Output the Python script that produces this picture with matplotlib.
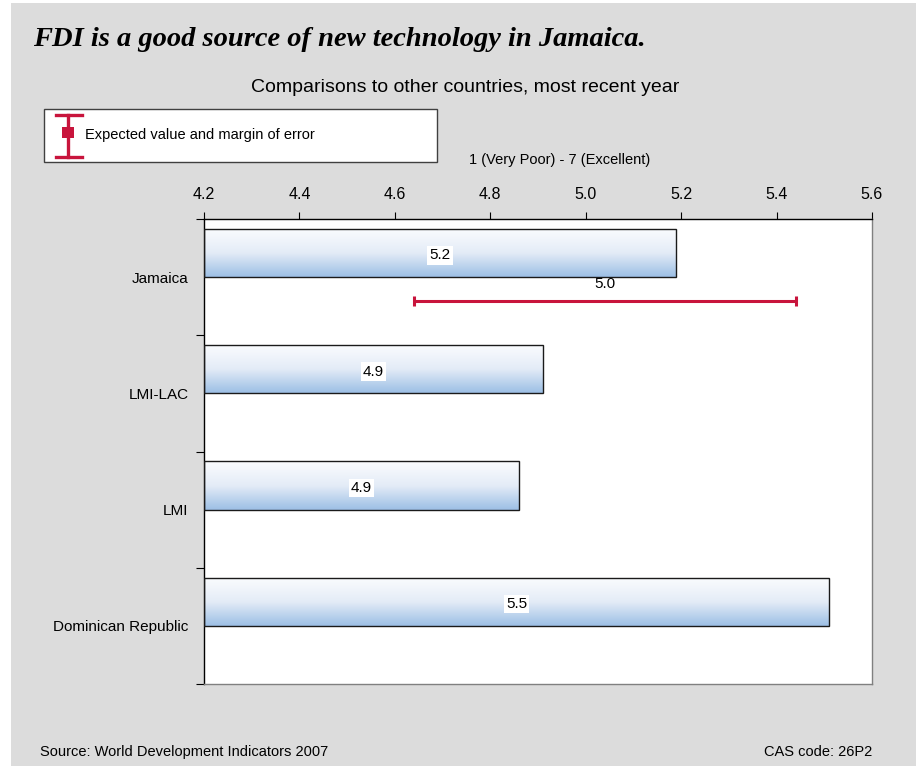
import numpy as np
import matplotlib
matplotlib.use("Agg")
import matplotlib.pyplot as plt
from matplotlib.colors import LinearSegmentedColormap
from matplotlib.patches import Rectangle
from matplotlib.lines import Line2D

plt.rcParams['font.family'] = ['Liberation Sans', 'DejaVu Sans']

# Data
countries = ["Jamaica", "LMI-LAC", "LMI", "Dominican Republic"]
scores = [5.19, 4.91, 4.86, 5.51]
score_labels = ["5.2", "4.9", "4.9", "5.5"]
expected_value = 5.04          # Jamaica expected value
expected_label = "5.0"
margin_of_error = 0.40
x_ticks = [4.2, 4.4, 4.6, 4.8, 5.0, 5.2, 5.4, 5.6]

BG = "#dcdcdc"
RED = "#c8143c"

fig = plt.figure(figsize=(9.16, 7.66), dpi=100)
fig.patch.set_facecolor("white")
# grey panel
fig.add_artist(Rectangle((11 / 916, 0), 1, 1 - 3 / 766, transform=fig.transFigure,
                         facecolor=BG, edgecolor="none", zorder=-10))

ax = fig.add_axes([204 / 916, 1 - 684 / 766, 668 / 916, 465 / 766])
ax.set_facecolor("white")
ax.set_xlim(4.2, 5.6)
ax.set_ylim(3.5, -0.5)

y = np.arange(len(countries))
bar_h = 0.414
off = 0.207

cmap = LinearSegmentedColormap.from_list("barfade", ["#fbfcfe", "#e4ecf7", "#9cbfe5"])
grad = np.linspace(0, 1, 256).reshape(-1, 1)

bars = ax.barh(y - off, [s - 4.2 for s in scores], left=4.2, height=bar_h,
               facecolor="none", edgecolor="#1a1a1a", linewidth=1.0, zorder=3)
for b, lab in zip(bars, score_labels):
    x0, y0 = b.get_x(), b.get_y()
    w, h = b.get_width(), b.get_height()
    im = ax.imshow(grad, cmap=cmap, aspect="auto", origin="upper",
                   extent=[x0, x0 + w, y0 + h, y0], zorder=2, interpolation="bilinear")
    im.set_clip_path(b)
    ax.text(x0 + w / 2, y0 + h / 2 + 0.02, lab, ha="center", va="center", fontsize=11,
            zorder=5, bbox=dict(facecolor="white", edgecolor="none", pad=1.5))

# expected value with margin of error (Jamaica)
ax.errorbar([expected_value], [0 + off], xerr=[[margin_of_error], [margin_of_error]],
            fmt="none", ecolor=RED, elinewidth=2.2, capsize=3.5, capthick=2.2, zorder=4)
ax.text(expected_value, 0 + off - 0.09, expected_label, ha="center", va="bottom",
        fontsize=11, zorder=5)

# axes styling
ax.xaxis.tick_top()
ax.set_xticks(x_ticks)
ax.set_xticklabels([f"{t:.1f}" for t in x_ticks], fontsize=11.5)
ax.tick_params(axis="x", direction="out", length=5, width=0.8, pad=7, colors="black")
ax.set_yticks(y)
ax.set_yticklabels(countries, fontsize=11)
ax.tick_params(axis="y", which="major", length=0, pad=11)
ax.set_yticks([-0.5, 0.5, 1.5, 2.5, 3.5], minor=True)
ax.tick_params(axis="y", which="minor", direction="out", length=6, width=0.8)
ax.spines["top"].set_color("black")
ax.spines["left"].set_color("black")
ax.spines["right"].set_color("#808080")
ax.spines["bottom"].set_color("#808080")
for s in ax.spines.values():
    s.set_linewidth(1.0)

# texts
fig.text(33 / 916, 1 - 40 / 766, "FDI is a good source of new technology in Jamaica.",
         family=["Liberation Serif", "DejaVu Serif"], fontsize=20.5, fontweight="bold",
         fontstyle="italic", va="center", ha="left")
fig.text(465 / 916, 1 - 88 / 766, "Comparisons to other countries, most recent year",
         fontsize=14, ha="center", va="center")
fig.text(560 / 916, 1 - 160 / 766, "1 (Very Poor) - 7 (Excellent)",
         fontsize=10.5, ha="center", va="center")
fig.text(40 / 916, 1 - 752 / 766, "Source: World Development Indicators 2007",
         fontsize=10.5, ha="left", va="center")
fig.text(872 / 916, 1 - 752 / 766, "CAS code: 26P2",
         fontsize=10.5, ha="right", va="center")

# legend box
fig.add_artist(Rectangle((44 / 916, 1 - 162 / 766), 393 / 916, 53 / 766,
                         transform=fig.transFigure, facecolor="white",
                         edgecolor="#404040", linewidth=1.0, zorder=5))
lx = 68 / 916
fig.add_artist(Line2D([lx, lx], [1 - 157 / 766, 1 - 115 / 766], transform=fig.transFigure,
                      color=RED, linewidth=2.4, zorder=6))
for yy in (115, 157):
    fig.add_artist(Line2D([56 / 916, 82 / 916], [1 - yy / 766, 1 - yy / 766],
                          transform=fig.transFigure, color=RED, linewidth=2.4, zorder=6))
fig.add_artist(Rectangle((62 / 916, 1 - 138 / 766), 12 / 916, 11 / 766,
                         transform=fig.transFigure, facecolor=RED, edgecolor="none", zorder=7))
fig.text(85 / 916, 1 - 135 / 766, "Expected value and margin of error", fontsize=10.5,
         ha="left", va="center", zorder=8)

fig.savefig("out.png", dpi=100)
